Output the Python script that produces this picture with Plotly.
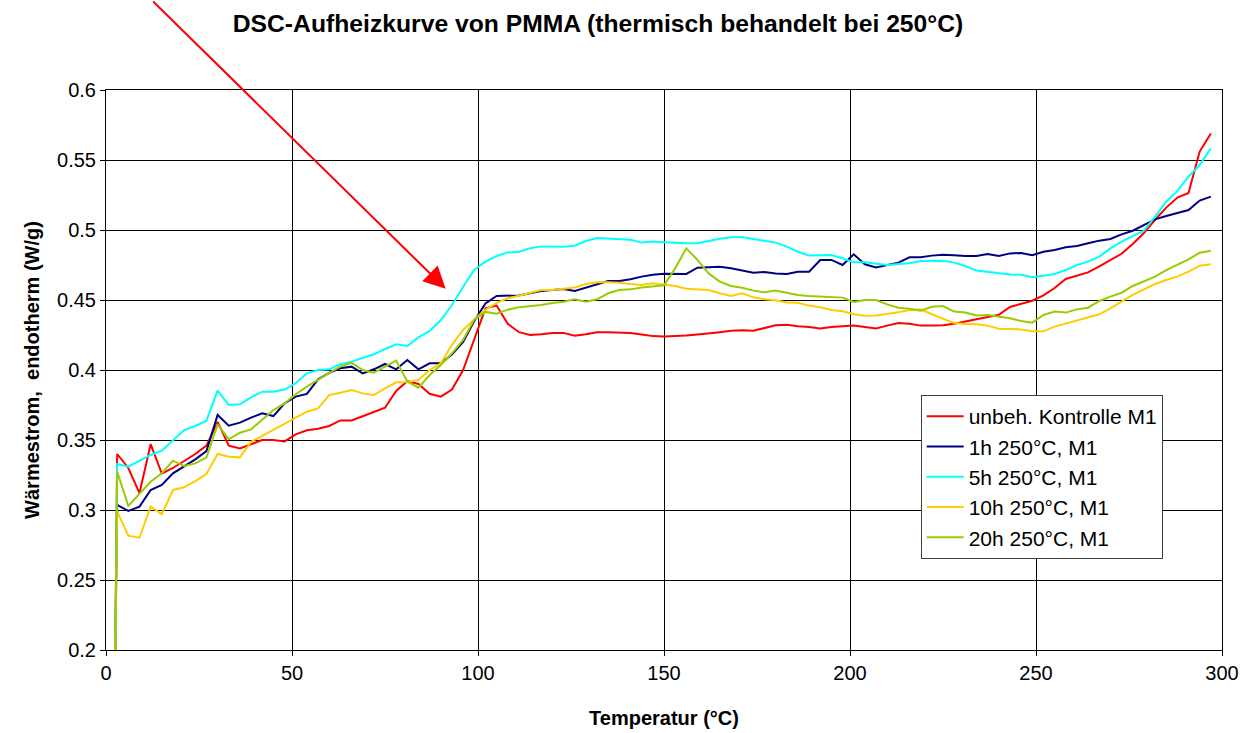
import plotly.graph_objects as go

# Heating temperature (°C); first sample marks the start of the scan
temperature = [2.5,
    3, 6, 9, 12, 15, 18, 21, 24, 27, 30,
    33, 36, 39, 42, 45, 48, 51, 54, 57, 60,
    63, 66, 69, 72, 75, 78, 81, 84, 87, 90,
    93, 96, 99, 102, 105, 108, 111, 114, 117, 120,
    123, 126, 129, 132, 135, 138, 141, 144, 147, 150,
    153, 156, 159, 162, 165, 168, 171, 174, 177, 180,
    183, 186, 189, 192, 195, 198, 201, 204, 207, 210,
    213, 216, 219, 222, 225, 228, 231, 234, 237, 240,
    243, 246, 249, 252, 255, 258, 261, 264, 267, 270,
    273, 276, 279, 282, 285, 288, 291, 294, 297]

# Heat flow (W/g), endotherm up
kontrolle = [0.2,
    0.340, 0.330, 0.312, 0.347, 0.326, 0.330, 0.335, 0.340, 0.346, 0.363,
    0.346, 0.344, 0.347, 0.350, 0.350, 0.349, 0.354, 0.357, 0.358, 0.360,
    0.364, 0.364, 0.367, 0.370, 0.373, 0.385, 0.392, 0.390, 0.383, 0.381,
    0.386, 0.400, 0.422, 0.444, 0.446, 0.433, 0.427, 0.425, 0.4255, 0.4265,
    0.4265, 0.4244, 0.4255, 0.427, 0.427, 0.427, 0.4265, 0.4253, 0.4242, 0.424,
    0.4242, 0.4246, 0.4253, 0.426, 0.427, 0.428, 0.4284, 0.428, 0.430, 0.432,
    0.4324, 0.4312, 0.4307, 0.4296, 0.4307, 0.4312, 0.4317, 0.4307, 0.4296, 0.4317,
    0.4336, 0.433, 0.4317, 0.4317, 0.432, 0.433, 0.4345, 0.436, 0.438, 0.4395,
    0.445, 0.4474, 0.4495, 0.4533, 0.4586, 0.465, 0.4674, 0.4697, 0.474, 0.4788,
    0.483, 0.490, 0.4978, 0.5073, 0.516, 0.5232, 0.5264, 0.556, 0.569]

h1 = [0.2,
    0.3036, 0.2993, 0.3024, 0.3143, 0.3179, 0.3262, 0.3314, 0.3362, 0.3421, 0.3679,
    0.3602, 0.3624, 0.366, 0.369, 0.3671, 0.3762, 0.381, 0.3829, 0.3933, 0.398,
    0.4012, 0.4024, 0.3976, 0.4005, 0.4043, 0.4005, 0.4071, 0.4005, 0.4048, 0.4048,
    0.411, 0.420, 0.435, 0.4476, 0.4529, 0.4531, 0.4533, 0.4548, 0.4564, 0.4571,
    0.4579, 0.4564, 0.4588, 0.4614, 0.4636, 0.4636, 0.4648, 0.4667, 0.4681, 0.4688,
    0.4686, 0.4686, 0.4731, 0.4736, 0.4738, 0.4726, 0.471, 0.4695, 0.470, 0.469,
    0.4686, 0.4702, 0.4702, 0.4786, 0.4786, 0.475, 0.4826, 0.4755, 0.4733, 0.475,
    0.4767, 0.4805, 0.4805, 0.4817, 0.4824, 0.482, 0.4814, 0.4814, 0.4829, 0.4814,
    0.4833, 0.4836, 0.482, 0.4845, 0.4857, 0.4876, 0.4886, 0.4905, 0.4924, 0.4936,
    0.4969, 0.4995, 0.5036, 0.5076, 0.510, 0.5119, 0.5143, 0.521, 0.5238]

h5 = [0.2,
    0.3329, 0.331, 0.335, 0.3393, 0.3424, 0.350, 0.3571, 0.360, 0.3638, 0.3852,
    0.375, 0.3755, 0.3805, 0.3845, 0.3845, 0.386, 0.3905, 0.3976, 0.400, 0.4005,
    0.4041, 0.406, 0.4088, 0.4112, 0.415, 0.4183, 0.4171, 0.4233, 0.4279, 0.4357,
    0.4464, 0.4595, 0.4714, 0.4774, 0.4814, 0.484, 0.4845, 0.4869, 0.4883, 0.4883,
    0.488, 0.4888, 0.4921, 0.4943, 0.4938, 0.4931, 0.493, 0.491, 0.4917, 0.4912,
    0.4907, 0.4905, 0.4905, 0.4921, 0.4938, 0.4948, 0.495, 0.4936, 0.4924, 0.491,
    0.4881, 0.4845, 0.4817, 0.4821, 0.4821, 0.4798, 0.4769, 0.4769, 0.4757, 0.475,
    0.4757, 0.4762, 0.4779, 0.4779, 0.478, 0.4767, 0.4743, 0.471, 0.4702, 0.469,
    0.4683, 0.468, 0.4662, 0.4674, 0.4686, 0.4714, 0.475, 0.4774, 0.481, 0.4869,
    0.4917, 0.4957, 0.4995, 0.5095, 0.5202, 0.5279, 0.5381, 0.5464, 0.5583]

h10 = [0.2,
    0.2988, 0.2817, 0.2802, 0.3024, 0.297, 0.3143, 0.3162, 0.3207, 0.3257, 0.340,
    0.3381, 0.3376, 0.3488, 0.3529, 0.3571, 0.3612, 0.366, 0.3702, 0.3726, 0.3821,
    0.3838, 0.3857, 0.3833, 0.3821, 0.3869, 0.3912, 0.3914, 0.3929, 0.400, 0.4048,
    0.418, 0.4286, 0.436, 0.443, 0.448, 0.4512, 0.453, 0.4552, 0.4571, 0.4571,
    0.4583, 0.459, 0.4614, 0.4626, 0.4626, 0.4624, 0.4614, 0.4607, 0.4619, 0.4609,
    0.460, 0.4581, 0.4576, 0.4571, 0.4548, 0.4529, 0.4548, 0.4519, 0.4505, 0.4498,
    0.4483, 0.4481, 0.446, 0.4448, 0.4429, 0.4419, 0.4398, 0.4388, 0.439, 0.440,
    0.4412, 0.4429, 0.4433, 0.4398, 0.4365, 0.4335, 0.4329, 0.4326, 0.4317, 0.4295,
    0.4292, 0.429, 0.4277, 0.4276, 0.431, 0.4333, 0.4357, 0.4376, 0.4398, 0.444,
    0.4488, 0.4536, 0.4576, 0.4614, 0.4643, 0.4667, 0.4702, 0.4745, 0.4755]

h20 = [0.2,
    0.3274, 0.3029, 0.3112, 0.3202, 0.3262, 0.3352, 0.3314, 0.3333, 0.3374, 0.3612,
    0.3505, 0.3552, 0.3576, 0.3648, 0.3714, 0.3762, 0.3827, 0.3881, 0.3933, 0.398,
    0.4024, 0.4052, 0.400, 0.398, 0.4024, 0.4067, 0.3917, 0.3874, 0.3964, 0.4036,
    0.4119, 0.4215, 0.436, 0.4415, 0.4402, 0.4431, 0.4448, 0.4456, 0.4464, 0.4479,
    0.4488, 0.4505, 0.4488, 0.4505, 0.4548, 0.4571, 0.4576, 0.459, 0.460, 0.4605,
    0.4726, 0.4869, 0.4786, 0.469, 0.4631, 0.460, 0.4588, 0.4567, 0.4555, 0.4567,
    0.4552, 0.4536, 0.4529, 0.4524, 0.4521, 0.4517, 0.4486, 0.450, 0.450, 0.4469,
    0.4445, 0.4438, 0.4424, 0.4452, 0.4457, 0.4417, 0.441, 0.439, 0.4393, 0.4381,
    0.4369, 0.435, 0.4338, 0.4393, 0.4417, 0.441, 0.4433, 0.4445, 0.4493, 0.4524,
    0.4552, 0.460, 0.4631, 0.4667, 0.4714, 0.475, 0.479, 0.4838, 0.4852]

series_names = ["unbeh. Kontrolle M1", "1h 250°C, M1", "5h 250°C, M1",
                "10h 250°C, M1", "20h 250°C, M1"]
series_values = [kontrolle, h1, h5, h10, h20]
series_colors = ["#FF0000", "#000080", "#00FFFF", "#FFCC00", "#99CC00"]

x_ticks = [0, 50, 100, 150, 200, 250, 300]
y_ticks = [0.2, 0.25, 0.3, 0.35, 0.4, 0.45, 0.5, 0.55, 0.6]

FONT = "Liberation Sans, Arial, sans-serif"

fig = go.Figure()
for name, vals, col in zip(series_names, series_values, series_colors):
    fig.add_trace(go.Scatter(x=temperature, y=vals, name=name, mode="lines",
                             line=dict(color=col, width=2)))

# Arrow pointing at the glass transition step
fig.add_annotation(x=91.3, y=0.458, xref="x", yref="y", text="",
                   showarrow=True, arrowhead=2, arrowsize=2.2, arrowwidth=2,
                   arrowcolor="#FF0000", ax=-294, ay=-290)

fig.update_layout(
    width=1257, height=733,
    margin=dict(l=106, r=35, t=90, b=83, autoexpand=False),
    paper_bgcolor="white", plot_bgcolor="white",
    font=dict(family=FONT, size=20, color="black"),
    title=dict(text="<b>DSC-Aufheizkurve von PMMA (thermisch behandelt bei 250°C)</b>",
               x=598 / 1257, xanchor="center", xref="container",
               y=1 - 23 / 733, yanchor="middle",
               font=dict(family=FONT, size=24.7, color="black")),
    showlegend=True,
    legend=dict(x=0.730, y=0.4554, xanchor="left", yanchor="top",
                bgcolor="white", bordercolor="#404040", borderwidth=1,
                font=dict(family=FONT, size=21, color="black"),
                itemwidth=37, tracegroupgap=0),
)

fig.update_xaxes(range=[0, 300], tickvals=x_ticks, ticktext=[str(v) for v in x_ticks],
                 showgrid=True, gridcolor="#000000", gridwidth=1,
                 showline=True, linecolor="#000000", linewidth=1, mirror=True,
                 ticks="outside", ticklen=5, tickcolor="#000000",
                 zeroline=False, automargin=False,
                 title=dict(text="<b>Temperatur (°C)</b>",
                            font=dict(family=FONT, size=20, color="black"),
                            standoff=27))
fig.update_yaxes(range=[0.2, 0.6], tickvals=y_ticks, ticktext=[f"{v:g}" for v in y_ticks],
                 showgrid=True, gridcolor="#000000", gridwidth=1,
                 showline=True, linecolor="#000000", linewidth=1, mirror=True,
                 ticks="outside", ticklen=5, tickcolor="#000000",
                 zeroline=False, automargin=False,
                 title=dict(text="<b>Wärmestrom,  endotherm (W/g)</b>",
                            font=dict(family=FONT, size=20, color="black"),
                            standoff=12))

fig.write_html("out.html")
